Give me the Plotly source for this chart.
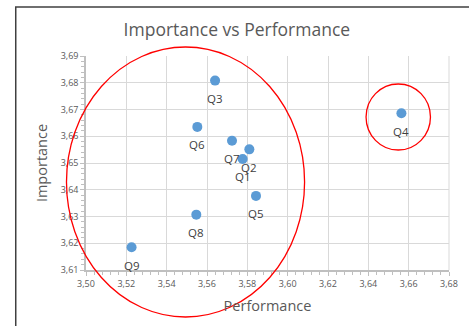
import plotly.graph_objects as go

labels = ["Q1", "Q2", "Q3", "Q4", "Q5", "Q6", "Q7", "Q8", "Q9"]
performance = [3.5777, 3.5810, 3.5640, 3.6564, 3.5843, 3.5552, 3.5724, 3.5547, 3.5226]
importance = [3.6515, 3.6551, 3.6808, 3.6686, 3.6377, 3.6635, 3.6583, 3.6307, 3.6185]

x_ticks = [3.50, 3.52, 3.54, 3.56, 3.58, 3.60, 3.62, 3.64, 3.66, 3.68]
y_ticks = [3.61, 3.62, 3.63, 3.64, 3.65, 3.66, 3.67, 3.68, 3.69]

W, H = 469, 326
L, R, T, B = 86, 11, 56, 56
pw, ph = W - L - R, H - T - B


def px_x(p):
    return (p - L) / pw


def px_y(p):
    return (H - B - p) / ph


fig = go.Figure()
fig.add_trace(go.Scatter(
    x=performance, y=importance, mode="markers",
    marker=dict(color="#5B9BD5", size=10),
    hoverinfo="skip", showlegend=False,
))
for lab, xv, yv in zip(labels, performance, importance):
    fig.add_annotation(x=xv, y=yv, text=lab, showarrow=False, yshift=-18,
                       font=dict(family="Open Sans", size=11.5, color="#404040"))

gray = "#595959"
fig.update_layout(
    width=W, height=H,
    margin=dict(l=L, r=R, t=T, b=B),
    paper_bgcolor="white", plot_bgcolor="white",
    separators=", ",
    title=dict(text="Importance vs Performance", x=0.505, xanchor="center",
               y=1 - 30 / H, yanchor="middle",
               font=dict(family="Open Sans", size=17.5, color=gray)),
    xaxis=dict(range=[3.50, 3.68], tickvals=x_ticks, tickformat=".2f",
               showgrid=True, gridcolor="#D9D9D9", gridwidth=1,
               showline=True, linecolor="#BFBFBF", linewidth=1.5, mirror=False,
               ticks="outside", ticklen=4, tickcolor="#BFBFBF",
               minor=dict(dtick=0.004, ticks="outside", ticklen=3, tickcolor="#BFBFBF", showgrid=False),
               tickfont=dict(family="Open Sans", size=9, color=gray),
               title=dict(text="Performance", standoff=12,
                          font=dict(family="Open Sans", size=14.5, color=gray)),
               zeroline=False),
    yaxis=dict(range=[3.61, 3.69], tickvals=y_ticks, tickformat=".2f",
               showgrid=True, gridcolor="#D9D9D9", gridwidth=1,
               showline=True, linecolor="#BFBFBF", linewidth=1.5,
               ticks="outside", ticklen=4, tickcolor="#BFBFBF",
               minor=dict(dtick=0.002, ticks="outside", ticklen=3, tickcolor="#BFBFBF", showgrid=False),
               tickfont=dict(family="Open Sans", size=9, color=gray),
               title=dict(text="Importance", standoff=10,
                          font=dict(family="Open Sans", size=14.5, color=gray)),
               zeroline=False),
    shapes=[
        # right border of plot area
        dict(type="line", xref="paper", yref="paper", x0=1, x1=1, y0=0, y1=1,
             line=dict(color="#D9D9D9", width=1)),
        # chart frame
        dict(type="rect", xref="paper", yref="paper",
             x0=px_x(14), x1=px_x(W + 20), y0=px_y(H + 20), y1=px_y(7),
             line=dict(color="#404040", width=1.5)),
        # big red ellipse
        dict(type="circle", xref="paper", yref="paper",
             x0=px_x(66), x1=px_x(310), y0=px_y(317), y1=px_y(47),
             line=dict(color="#FF0000", width=1.3)),
        # small red circle
        dict(type="circle", xref="paper", yref="paper",
             x0=px_x(373), x1=px_x(439), y0=px_y(150), y1=px_y(84),
             line=dict(color="#FF0000", width=1.3)),
    ],
)

fig.write_html(
    "out.html",
    config=dict(displayModeBar=False),
    post_script="document.body.style.margin='0';document.body.style.overflow='hidden';",
)
